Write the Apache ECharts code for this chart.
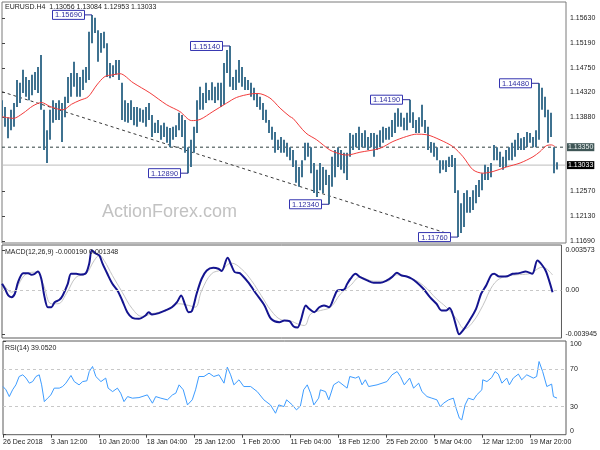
<!DOCTYPE html>
<html><head><meta charset="utf-8">
<script src="https://cdn.jsdelivr.net/npm/echarts@6/dist/echarts.min.js"></script>
<style>html,body{margin:0;padding:0;background:#fff}#c{width:600px;height:450px}</style>
</head><body><div id="c"></div>
<script>
// ---- data ----
const xLabels = ['26 Dec 2018','3 Jan 12:00','10 Jan 20:00','18 Jan 04:00','25 Jan 12:00','1 Feb 20:00','11 Feb 04:00','18 Feb 12:00','25 Feb 20:00','5 Mar 04:00','12 Mar 12:00','19 Mar 20:00'];
const hi = [1.1418,1.1406,1.1388,1.1401,1.1413,1.1454,1.1449,1.1472,1.1459,1.1454,
1.1463,1.1468,1.1477,1.1498,1.1401,1.1365,1.1401,1.1418,1.1413,1.1418,
1.1413,1.1424,1.1459,1.1466,1.1486,1.1466,1.1459,1.1472,1.1477,1.1539,
1.1569,1.1564,1.1542,1.1537,1.1539,1.1519,1.1484,1.1480,1.1489,1.1489,
1.1449,1.1418,1.1413,1.1418,1.1406,1.1406,1.1404,1.1401,1.1406,1.1413,
1.1392,1.1378,1.1383,1.1374,1.1378,1.1371,1.1369,1.1371,1.1374,1.1396,
1.1392,1.1383,1.1335,1.1348,1.1371,1.1418,1.1442,1.1431,1.1449,1.1436,
1.1450,1.1442,1.1449,1.1449,1.1484,1.1507,1.1514,1.1459,1.1472,1.1489,
1.1477,1.1459,1.1454,1.1449,1.1440,1.1431,1.1424,1.1413,1.1401,1.1383,
1.1371,1.1362,1.1348,1.1353,1.1348,1.1343,1.1335,1.1330,1.1312,1.1300,
1.1312,1.1343,1.1343,1.1335,1.1307,1.1295,1.1307,1.1300,1.1295,1.1286,
1.1318,1.1330,1.1335,1.1330,1.1325,1.1325,1.1360,1.1357,1.1360,1.1371,
1.1360,1.1365,1.1353,1.1360,1.1360,1.1357,1.1365,1.1371,1.1369,1.1371,
1.1383,1.1396,1.1404,1.1396,1.1387,1.1396,1.1419,1.1397,1.1383,1.1388,
1.1410,1.1383,1.1371,1.1344,1.1343,1.1335,1.1312,1.1312,1.1312,1.1318,
1.1321,1.1316,1.1259,1.1236,1.1254,1.1259,1.1247,1.1259,1.1268,1.1277,
1.1289,1.1304,1.1300,1.1307,1.1339,1.1335,1.1327,1.1318,1.1330,1.1335,
1.1343,1.1348,1.1360,1.1351,1.1353,1.1362,1.1360,1.1353,1.1365,1.1448,
1.1440,1.1424,1.1401,1.1396,1.1335,1.13084];
const lo = [1.1387,1.1371,1.1351,1.1365,1.1371,1.1406,1.1413,1.1431,1.1424,1.1418,
1.1427,1.1436,1.1431,1.1401,1.1330,1.1307,1.1348,1.1378,1.1383,1.1383,
1.1344,1.1388,1.1413,1.1424,1.1442,1.1424,1.1424,1.1436,1.1449,1.1454,
1.1519,1.1537,1.1486,1.1502,1.1510,1.1459,1.1457,1.1459,1.1463,1.1454,
1.1383,1.1380,1.1378,1.1383,1.1374,1.1371,1.1380,1.1378,1.1371,1.1383,
1.1353,1.1360,1.1360,1.1348,1.1353,1.1343,1.1335,1.1348,1.1353,1.1365,
1.1353,1.1325,1.1289,1.1300,1.1325,1.1360,1.1401,1.1401,1.1413,1.1418,
1.1418,1.1413,1.1418,1.1406,1.1410,1.1466,1.1442,1.1436,1.1436,1.1449,
1.1442,1.1436,1.1436,1.1424,1.1418,1.1406,1.1401,1.1383,1.1378,1.1360,
1.1348,1.1325,1.1330,1.1325,1.1325,1.1318,1.1312,1.1300,1.1272,1.1265,
1.1282,1.1312,1.1318,1.1289,1.1254,1.1247,1.1259,1.1254,1.1268,1.1234,
1.1265,1.1282,1.1300,1.1295,1.1289,1.1277,1.1318,1.1330,1.1335,1.1330,
1.1335,1.1334,1.1330,1.1335,1.1318,1.1330,1.1335,1.1343,1.1348,1.1348,
1.1353,1.1360,1.1371,1.1371,1.1365,1.1365,1.1378,1.1369,1.1360,1.1360,
1.1371,1.1360,1.1330,1.1325,1.1318,1.1312,1.1289,1.1295,1.1291,1.1300,
1.1300,1.1254,1.1176,1.1183,1.1194,1.1219,1.1219,1.1224,1.1236,1.1247,
1.1259,1.1277,1.1277,1.1282,1.1312,1.1312,1.1300,1.1295,1.1300,1.1312,
1.1312,1.1318,1.1330,1.1330,1.1330,1.1335,1.1343,1.1335,1.1335,1.1348,
1.1401,1.1388,1.1343,1.1353,1.1289,1.12953];
const maIdx = [0,3.8,7,10.3,13.2,16,20.3,23.2,26,28.7,31.6,34.3,37,39.3,43.7,49.3,54.9,59.3,63.2,66,70.3,74.9,78.2,82.7,85.3,89.3,92.7,96,97,101.3,104.9,109.3,112.7,114.9,119.3,126,130.3,134.9,138.2,141.6,146,150.3,153.7,157,160.3,163.7,168.2,172.7,177,179.3,181.6,183.2,184.3];
const maVal = [1.1389,1.1386,1.1395,1.1408,1.1414,1.1407,1.1401,1.1411,1.1418,1.1424,1.1445,1.1460,1.1463,1.1465,1.1449,1.1431,1.1410,1.1398,1.1382,1.1384,1.1398,1.1413,1.1423,1.1429,1.1430,1.1422,1.1404,1.1389,1.1386,1.1360,1.1348,1.1330,1.1323,1.1321,1.1326,1.1333,1.1345,1.1354,1.1358,1.1357,1.1348,1.1336,1.1318,1.1295,1.1289,1.1292,1.1300,1.1307,1.1318,1.1327,1.1338,1.1339,1.1336];
const trendIdx = [0, 148.7];
const trendVal = [1.1433, 1.1182];
const macdIdx = [0,1,2.1,3.2,4.3,5.4,7.1,8.8,9.9,11,12.1,13.2,14.3,15.4,16.6,17.7,19.3,20.4,22.1,23.2,24.9,26.6,28.2,29.3,30.2,31.6,32.7,33.8,35.4,37.1,38.8,40.4,42.1,43.8,46,48.2,49.3,50.4,52.7,54.9,57.1,58.8,60.2,61.6,62.7,63.8,65.4,67.1,68.8,71,72.7,73.8,75.8,77.1,78.2,79.9,82.7,85.4,88.2,90.4,93.2,94.9,96.6,98,99.3,100.4,102.1,103.2,104.9,106.6,108.2,109.9,111.6,112.7,114.9,116,117.1,118.8,120.4,122.7,124.9,127.1,129.3,131,132.7,134.3,136,137.7,139.3,141.6,143.8,146,147.7,149.3,150.4,151.6,152.7,153.6,154.9,157.1,159.3,161,162.7,164.3,165.4,167.1,169.3,171.6,173.8,176,178.2,179.9,181.6,182.9,185];
const macdVal = [0.00056,0.00012,-0.00048,-0.00063,-0.00033,0.0007,0.00151,0.00151,0.00136,0.00145,0.00166,0.00101,-0.00063,-0.00153,-0.00153,-0.00108,-0.00087,-0.00048,0.00056,0.00145,0.00145,0.00139,0.00151,0.00235,0.00355,0.00324,0.00309,0.00235,0.00145,0.00056,-0.00004,-0.00093,-0.00197,-0.00247,-0.00256,-0.00227,-0.00197,-0.00218,-0.00206,-0.00182,-0.00153,-0.00108,-0.00048,-0.00137,-0.00197,-0.00188,-0.00033,0.00101,0.00175,0.00199,0.0019,0.00169,0.00288,0.00219,0.0016,0.00151,0.0007,-0.00033,-0.00137,-0.00256,-0.00286,-0.00271,-0.00277,-0.00325,-0.00334,-0.00271,-0.00137,-0.00167,-0.00197,-0.00153,-0.00137,-0.00153,-0.00063,-0.00004,0.00003,0.00056,0.00101,0.00145,0.00115,0.00086,0.00065,0.00065,0.00086,0.00115,0.00154,0.0013,0.00121,0.00101,0.0007,0.00012,-0.00063,-0.00122,-0.00182,-0.00182,-0.00161,-0.00227,-0.00331,-0.00394,-0.0036,-0.00271,-0.00167,-0.00033,0.00041,0.0013,0.00145,0.00121,0.00121,0.00145,0.00151,0.00166,0.00145,0.00264,0.00219,0.0016,-0.00019];
const sigIdx = [0,3.2,8.2,11.6,13.8,16.6,18.8,21.6,24.9,28.2,31,32.7,34.3,37.1,40.4,43.8,47.1,50.4,54.9,59.3,62.7,64.9,67.1,70.4,73.8,77.1,80.4,83.8,87.1,90.4,93.8,97.1,99.3,101.6,103.8,107.1,110.4,113.8,117.1,120.4,124.9,129.3,132.7,137.1,141.6,146,149.3,152.7,155.4,158.2,161.6,164.9,168.2,172.7,177.1,181.6,185];
const sigVal = [0.0007,-0.00019,0.00145,0.0016,0.00056,-0.00122,-0.00122,-0.00033,0.00115,0.00145,0.00264,0.00309,0.00264,0.0013,-0.00019,-0.00167,-0.00235,-0.00211,-0.00182,-0.00122,-0.00137,-0.00153,-0.00004,0.00145,0.00181,0.0024,0.0019,0.00086,-0.00048,-0.00182,-0.00265,-0.00277,-0.00301,-0.00316,-0.00211,-0.00182,-0.00153,-0.00033,0.00041,0.00115,0.00079,0.00079,0.00136,0.0011,0.00041,-0.00078,-0.00153,-0.00256,-0.00345,-0.00286,-0.00137,0.00041,0.00115,0.00136,0.00145,0.00204,0.001348];
const rsiIdx = [0,1,2.1,3.2,4.3,5.4,6.6,7.7,8.8,9.9,11,12.1,12.9,13.8,14.9,16,17.1,18.8,19.9,21,22.7,23.8,25.4,26.6,28,28.8,29.9,31,32.7,34.3,35.1,36.6,38.2,39.3,40.4,41.6,43.2,45.4,48.2,49.9,51,52.7,54.9,56.6,57.7,58.8,60.2,61.6,63.2,64.3,65.4,67.1,68.8,70.4,72.1,73.8,74.9,76,77.1,78.8,80.4,82.7,84.9,87.1,89.3,91,92.1,93.8,94.7,96.6,98,99.3,100.4,101.6,102.7,103.8,105.4,106,107.7,108.8,110.4,112.1,114.9,115.8,117.7,118.8,119.9,121,122.1,124.9,128.2,129.9,131.6,132.7,134,135.8,137.1,138.8,139.9,141.6,143.2,144.9,146,147.1,148.8,150.4,151.3,152.4,153.2,154.3,155.4,157.1,158.2,159.9,160.2,161.6,163.2,164.3,165.4,166.6,168.2,169.1,170.4,172.1,173.2,174.9,177.1,178.2,179,180.2,181.6,183.2,183.8,185];
const rsiVal = [51.4,47.9,40.7,47.9,53.2,62.1,63.9,60.4,55.0,56.7,62.1,63.9,53.2,35.3,39.0,42.5,49.7,49.7,51.4,55.0,63.2,56.7,53.2,56.7,57.5,67.4,72.8,62.1,56.7,60.4,49.7,46.0,49.7,44.3,35.3,40.7,39.0,39.6,42.5,33.6,40.7,39.0,37.2,42.5,44.3,53.2,47.9,31.8,37.2,47.9,62.1,62.1,65.7,62.1,63.9,55.0,72.1,63.9,53.2,58.6,51.4,51.4,46.0,37.2,31.8,22.9,31.8,30.0,37.2,31.8,26.5,30.5,47.9,53.2,44.3,31.8,39.0,47.9,46.0,37.2,53.2,56.7,49.7,62.1,60.4,62.1,53.2,58.6,51.4,53.2,56.7,63.9,67.4,62.1,53.2,60.4,49.7,55.0,46.0,40.7,39.0,37.2,30.0,33.6,37.2,39.0,28.3,17.6,15.8,31.8,39.0,37.2,42.5,47.9,58.6,56.7,61.0,67.4,64.7,55.0,60.4,53.2,60.4,64.7,58.6,63.9,60.4,62.1,78.1,67.4,51.4,54.0,40.7,39.05];
const priceTicks = [1.1169,1.1213,1.1257,1.1388,1.1432,1.1475,1.1519,1.1563];
const macdTicks = [-0.003945, 0, 0.003573];
const rsiTicks = [0, 30, 70, 100];
const rsiLevels = [30, 70];
const swingIdx = [30, 62, 76, 109, 136, 152, 179];
const swingSide = ['hi','lo','hi','lo','hi','lo','hi'];
const levelLine = 1.1335;
const bidLine = 1.13033;
const mainTitle = 'EURUSD.H4  1.13056 1.13084 1.12953 1.13033';
const macdTitle = 'MACD(12,26,9) -0.000190 0.001348';
const rsiTitle = 'RSI(14) 39.0520';

// ---- chart ----
const FONT = '"Liberation Sans", Arial, sans-serif';
const XMAX = 188;
const pair = (a, b) => a.slice(0, Math.min(a.length, b.length)).map((x, k) => [x, b[k]]);
const bars = hi.map((h, i) => [i, lo[i], h]);
const swings = swingIdx.map((i, k) => [i, swingSide[k] === 'hi' ? hi[i] : lo[i]]);
const chart = echarts.init(document.getElementById('c'));
const grids = [
  {left: 2, right: 34, top: 2, height: 241, borderColor: '#7a7a7a'},
  {left: 2, right: 34, top: 245, height: 93, borderColor: '#5a5a5a'},
  {left: 2, right: 34, top: 341, height: 93.7, borderColor: '#5a5a5a'}
].map(g => Object.assign(g, {show: true, borderWidth: 1}));
const xa = (gi, show) => ({
  type: 'value', gridIndex: gi, min: 0, max: XMAX, interval: 16,
  axisLine: {show: false}, splitLine: {show: false},
  axisTick: {show: show, length: 3, lineStyle: {color: '#444'}},
  axisLabel: {show: show, align: 'left', margin: 4, fontSize: 7, fontFamily: FONT, color: '#222',
    showMaxLabel: false, formatter: v => (v % 16 === 0 && xLabels[v / 16]) || ''}
});
const ya = (gi, min, max, ticks, fmt) => ({
  type: 'value', gridIndex: gi, position: 'right', min: min, max: max, scale: true,
  axisLine: {show: false}, splitLine: {show: false},
  axisTick: {show: true, length: 3, customValues: ticks, lineStyle: {color: '#444'}},
  axisLabel: {customValues: ticks, formatter: fmt, fontSize: 7, fontFamily: FONT, color: '#222', margin: 4}
});
const txt = (x, y, s) => ({type: 'text', x: x, y: y, z: 100,
  style: {text: s, fontSize: 7, fontFamily: FONT, fill: '#222', verticalAlign: 'middle'}});
const hline = (v, color, type, bg, fg, z) => ({
  type: 'line', xAxisIndex: 0, yAxisIndex: 0, data: [[0, v], [XMAX, v]], symbol: 'none', z: z,
  silent: true, clip: false, lineStyle: {color: color, width: 1, type: type},
  endLabel: {show: true, distance: 1, formatter: () => v.toFixed(5), backgroundColor: bg, color: fg,
    fontSize: 7, fontFamily: FONT, padding: [1, 1, 0, 1]}
});

const rsiY = ya(2, 0, 100, rsiTicks, v => String(v));
rsiY.axisLabel.verticalAlignMinLabel = 'bottom';
rsiY.axisLabel.verticalAlignMaxLabel = 'top';

chart.setOption({
  animation: false,
  backgroundColor: '#fff',
  grid: grids,
  xAxis: [xa(0, false), xa(1, false), xa(2, true)],
  yAxis: [
    ya(0, 1.11655, 1.15918, priceTicks, v => v.toFixed(4) + '0'),
    ya(1, -0.004275, 0.004019, macdTicks, v => v === 0 ? '0.00' : v.toFixed(6)),
    rsiY
  ],
  graphic: [
    {type: 'text', left: 102, top: 203, z: -10,
      style: {text: 'ActionForex.com', fontSize: 18, fontFamily: FONT, fill: '#c2c2c2'}},
    txt(5, 7.5, mainTitle),
    txt(5, 252, macdTitle),
    txt(5, 348.5, rsiTitle)
  ],
  series: [
    hline(bidLine, '#bdbdbd', 'solid', '#000', '#fff', 1),
    hline(levelLine, '#2f3f3f', [3, 3], '#3f5656', '#eef4f4', 2),
    {
      type: 'custom', name: 'bars', xAxisIndex: 0, yAxisIndex: 0, data: bars, clip: true, z: 3,
      encode: {x: 0, y: [1, 2]},
      renderItem: (params, api) => {
        const i = api.value(0);
        const a = api.coord([i, api.value(1)]);
        const b = api.coord([i, api.value(2)]);
        return {type: 'line', shape: {x1: a[0], y1: a[1], x2: b[0], y2: b[1]},
          style: {stroke: '#3f7290', lineWidth: 2}};
      }
    },
    {type: 'line', name: 'ma', xAxisIndex: 0, yAxisIndex: 0, data: pair(maIdx, maVal), symbol: 'none',
      smooth: 0.3, z: 4, lineStyle: {color: '#f23c3c', width: 1}},
    {type: 'line', name: 'trend', xAxisIndex: 0, yAxisIndex: 0, data: pair(trendIdx, trendVal), symbol: 'none',
      z: 2, lineStyle: {color: '#3a3a3a', width: 1, type: [3, 3]}},
    {
      type: 'custom', name: 'swings', xAxisIndex: 0, yAxisIndex: 0, data: swings, clip: false, z: 6,
      encode: {x: 0, y: 1},
      renderItem: (params, api) => {
        const p = api.coord([api.value(0), api.value(1)]);
        const w = 32, h = 9, gap = 7.5;
        const x0 = p[0] - gap - w;
        return {type: 'group', children: [
          {type: 'line', shape: {x1: p[0] - gap, y1: p[1], x2: p[0], y2: p[1]}, style: {stroke: '#2a2a9a', lineWidth: 1}},
          {type: 'rect', shape: {x: x0, y: p[1] - h / 2, width: w, height: h},
            style: {fill: '#fff', stroke: '#3434b0', lineWidth: 1}},
          {type: 'text', style: {x: x0 + w / 2, y: p[1] + 0.5, text: api.value(1).toFixed(4) + '0',
            align: 'center', verticalAlign: 'middle', fontSize: 7.5, fontFamily: FONT, fill: '#3030a0'}}
        ]};
      }
    },
    {type: 'line', name: 'macd', xAxisIndex: 1, yAxisIndex: 1, data: pair(macdIdx, macdVal), symbol: 'none',
      smooth: 0.3, z: 4, lineStyle: {color: '#14148f', width: 2},
      markLine: {silent: true, symbol: ['none', 'none'], label: {show: false},
        lineStyle: {type: [3, 3], color: '#c8c8c8', width: 1}, data: [{yAxis: 0}]}},
    {type: 'line', name: 'signal', xAxisIndex: 1, yAxisIndex: 1, data: pair(sigIdx, sigVal), symbol: 'none',
      smooth: 0.4, z: 3, lineStyle: {color: '#c4c4c4', width: 1}},
    {type: 'line', name: 'rsi', xAxisIndex: 2, yAxisIndex: 2, data: pair(rsiIdx, rsiVal), symbol: 'none',
      z: 4, lineStyle: {color: '#3d9cff', width: 1},
      markLine: {silent: true, symbol: ['none', 'none'], label: {show: false},
        lineStyle: {type: [3, 3], color: '#c8c8c8', width: 1}, data: rsiLevels.map(v => ({yAxis: v}))}}
  ]
});
</script>
</body></html>
